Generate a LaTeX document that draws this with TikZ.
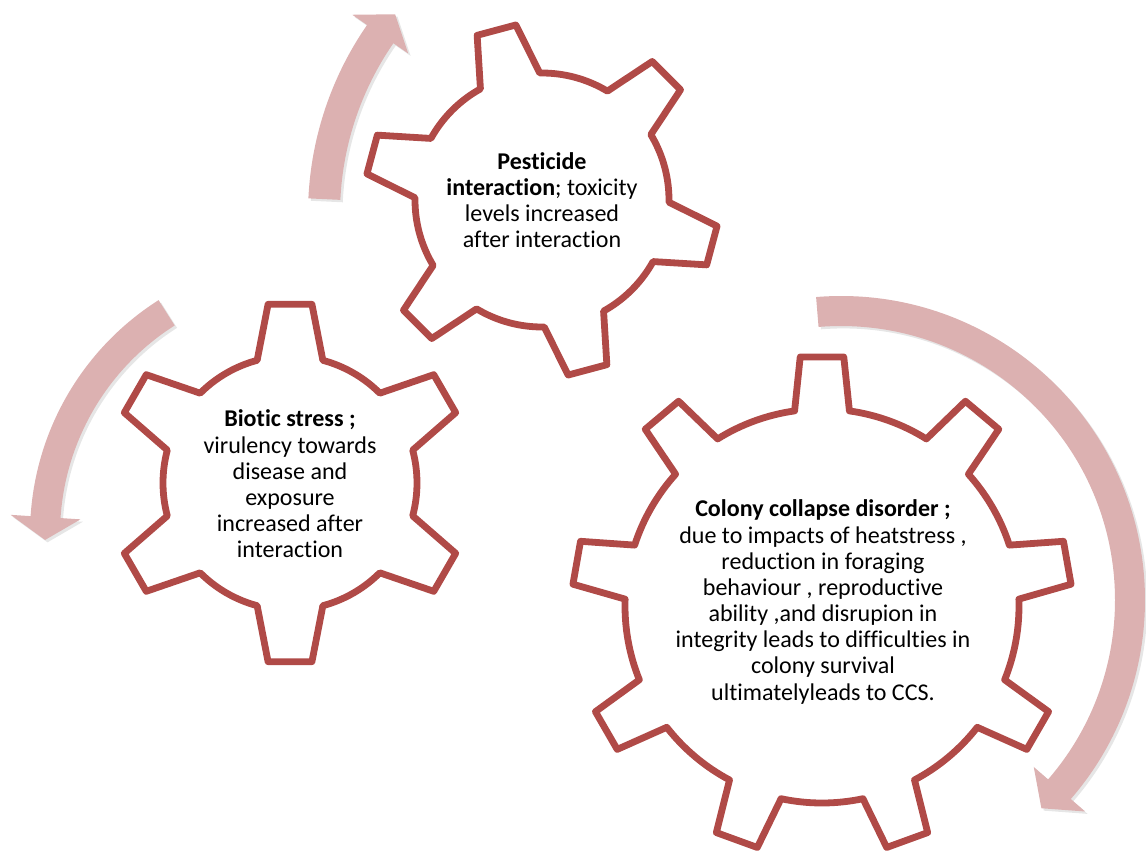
\documentclass[tikz,border=0pt]{standalone}
\usepackage{fontspec}
\setmainfont{Carlito}[Ligatures=NoCommon]
\usetikzlibrary{shadows}

\definecolor{gearred}{RGB}{176,74,71}
\definecolor{arrowpink}{RGB}{220,177,177}

\tikzstyle{gearline} = [draw=gearred, line width=0.17cm, line join=round, fill=white, drop shadow={opacity=0.15, shadow xshift=0.05cm, shadow yshift=-0.05cm}]
\tikzstyle{turnarrow} = [fill=arrowpink, drop shadow={opacity=0.2, shadow xshift=0.06cm, shadow yshift=-0.06cm}]
\tikzstyle{geartext} = [align=center, font=\fontsize{17.1}{18.6}\selectfont]

% #1 centre, #2 yscale, #3 teeth, #4 first tooth, #5 outer r, #6 root r, #7 tip half angle, #8 base half angle
\newcommand{\gearwheel}[8]{%
\begin{scope}[shift={#1}, yscale=#2]
\draw[gearline] ({#4-#8}:#6)
  \foreach \k in {1,...,#3} {
    -- ({#4+(\k-1)*360/#3-#7}:#5) -- ({#4+(\k-1)*360/#3+#7}:#5)
    -- ({#4+(\k-1)*360/#3+#8}:#6)
    arc[start angle={#4+(\k-1)*360/#3+#8}, end angle={#4+\k*360/#3-#8}, radius=#6]
  } -- cycle;
\end{scope}}

% #1 centre, #2 radius, #3 half width, #4 tail angle, #5 head angle, #6 tip angle, #7 head half width
\newcommand{\roundarrow}[7]{%
\fill[turnarrow, shift={#1}] ({#4}:{#2+#3}) arc[start angle=#4, end angle=#5, radius={#2+#3}]
  -- ({#5}:{#2+#7}) -- ({#6}:#2) -- ({#5}:{#2-#7}) -- ({#5}:{#2-#3})
  arc[start angle=#5, end angle=#4, radius={#2-#3}] -- cycle;}

\begin{document}
\begin{tikzpicture}[x=0.025cm, y=0.025cm]
\useasboundingbox (0,0) rectangle (1146,-855);

\roundarrow{(640,-214)}{316}{16}{177.3}{145.3}{140.8}{34}
\roundarrow{(307,-534)}{262}{15}{122.4}{176.3}{181.3}{35}
\roundarrow{(841,-600)}{289}{15}{94.7}{-40.9}{-46.1}{34}

\gearwheel{(542,-200)}{1}{6}{105}{177}{127}{6.5}{14}
\gearwheel{(290,-483)}{1}{6}{90}{180}{127}{7}{15}
\gearwheel{(822,-606)}{1}{9}{90}{250}{197}{5}{8}

\node (pest) [geartext] at (542,-200) {\textbf{Pesticide}\\\textbf{interaction}; toxicity\\levels increased\\after interaction};
\node (biotic) [geartext] at (290,-484) {\textbf{Biotic stress ;}\\virulency towards\\disease and\\exposure\\increased after\\interaction};
\node (colony) [geartext] at (823,-602) {\textbf{Colony collapse disorder ;}\\due to impacts of heatstress ,\\reduction in foraging\\behaviour , reproductive\\ability ,and disrupion in\\integrity leads to difficulties in\\colony survival\\ultimatelyleads to CCS.};

\end{tikzpicture}
\end{document}
